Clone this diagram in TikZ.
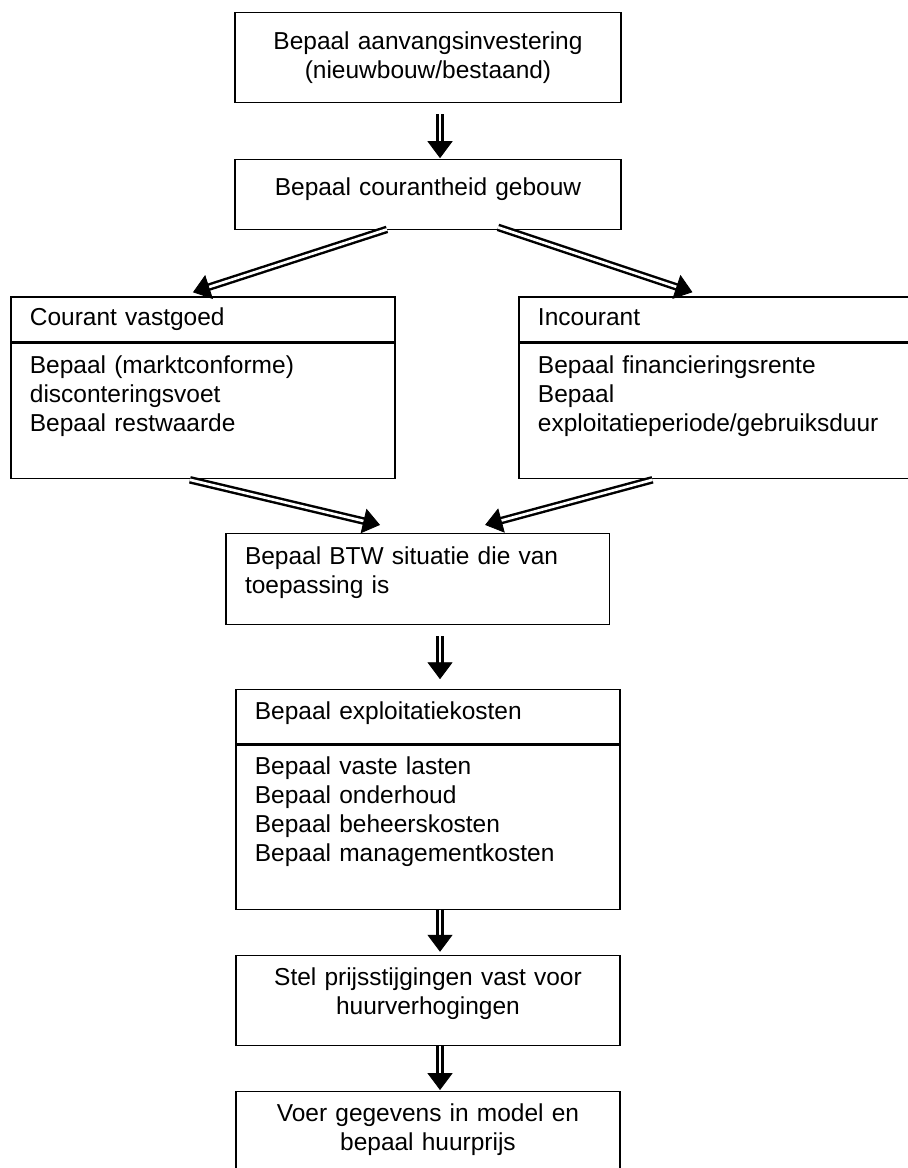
\documentclass[tikz,border=0pt]{standalone}
\usepackage{fontspec}
\setmainfont{Liberation Sans}
\usepackage{tikz}
\usetikzlibrary{arrows.meta, positioning}

\begin{document}
\begin{tikzpicture}[
        box/.style = {draw, rectangle, line width=0.6pt, inner xsep=9.3pt, inner ysep=0pt, font=\fontsize{12pt}{14.2pt}\selectfont},
        mainbox/.style = {box, text width=170.5pt, align=center},
        stepbox/.style = {box, text width=169.6pt, align=center},
        leftbox/.style = {box, text width=169.6pt, align=left},
        rightbox/.style = {box, text width=175pt, align=left},
        sized/.style 2 args = {text height=#1, text depth=#2},
        arrow/.style = {draw=white, line width=0.4pt, -{Triangle[color=black, width=12.3pt, length=8.3pt]},
            preaction={draw=black, -, double=white, line width=1.2pt, double distance=1.3pt, shorten >=7.5pt}}
    ]

        \clip (0,0) rectangle (444.9pt,-572.3pt);

        % Aanvangsinvestering
        \node (invest) [mainbox, sized={18.1pt}{26pt}, anchor=north] at (209.7pt,-5.9pt)
            {Bepaal aanvangsinvestering\\(nieuwbouw/bestaand)};

        % Courantheid
        \node (courant) [mainbox, sized={17.6pt}{16.7pt}, below=27.4pt of invest]
            {Bepaal courantheid gebouw};

        % Courant vastgoed
        \node (cvhead) [leftbox, sized={14.2pt}{7.85pt}, below=32.3pt of courant, xshift=-110.25pt]
            {Courant vastgoed};
        \node (cvbody) [leftbox, sized={14.7pt}{51.45pt}, below=0pt of cvhead]
            {Bepaal (marktconforme)\\disconteringsvoet\\Bepaal restwaarde};

        % Incourant
        \node (ichead) [rightbox, sized={14.2pt}{7.85pt}, below=32.3pt of courant, xshift=141.4pt]
            {Incourant};
        \node (icbody) [rightbox, sized={14.7pt}{51.45pt}, below=0pt of ichead]
            {Bepaal financieringsrente\\Bepaal\\exploitatieperiode/gebruiksduur};

        % BTW
        \node (btw) [leftbox, text width=169.1pt, sized={15.2pt}{29.4pt}, below=26.5pt of cvbody.south -| courant.south, xshift=-5.1pt]
            {Bepaal BTW situatie die van\\toepassing is};

        % Exploitatiekosten
        \node (exhead) [leftbox, sized={14.7pt}{11.8pt}, below=31.4pt of btw, xshift=5.1pt]
            {Bepaal exploitatiekosten};
        \node (exbody) [leftbox, sized={14.2pt}{66.2pt}, below=0pt of exhead]
            {Bepaal vaste lasten\\Bepaal onderhoud\\Bepaal beheerskosten\\Bepaal managementkosten};

        % Prijsstijgingen
        \node (prijs) [stepbox, sized={14.7pt}{29.4pt}, below=22.05pt of exbody]
            {Stel prijsstijgingen vast voor\\huurverhogingen};

        % Huurprijs
        \node (huur) [stepbox, sized={14.7pt}{31.9pt}, below=22.05pt of prijs]
            {Voer gegevens in model en\\bepaal huurprijs};

        % Arrows
        \draw [arrow] ([xshift=5.9pt, yshift=-5.4pt]invest.south) -- ([xshift=5.9pt, yshift=0.5pt]courant.north);
        \draw [arrow] ([xshift=-20.1pt, yshift=0.5pt]courant.south) -- ([xshift=-4.9pt, yshift=2pt]cvhead.north);
        \draw [arrow] ([xshift=34.3pt, yshift=1.5pt]courant.south) -- ([xshift=85.3pt, yshift=2pt]ichead.north west);
        \draw [arrow] ([xshift=-6.4pt, yshift=-0.5pt]cvbody.south) -- ([xshift=-18.4pt, yshift=3.9pt]btw.north);
        \draw [arrow] ([xshift=65.7pt, yshift=-0.5pt]icbody.south west) -- ([xshift=33.1pt, yshift=3.9pt]btw.north);
        \draw [arrow] ([xshift=11pt, yshift=-5.4pt]btw.south) -- ([xshift=5.9pt, yshift=4.9pt]exhead.north);
        \draw [arrow] ([xshift=5.9pt]exbody.south) -- ([xshift=5.9pt, yshift=1.5pt]prijs.north);
        \draw [arrow] ([xshift=5.9pt]prijs.south) -- ([xshift=5.9pt, yshift=0.5pt]huur.north);

\end{tikzpicture}
\end{document}
